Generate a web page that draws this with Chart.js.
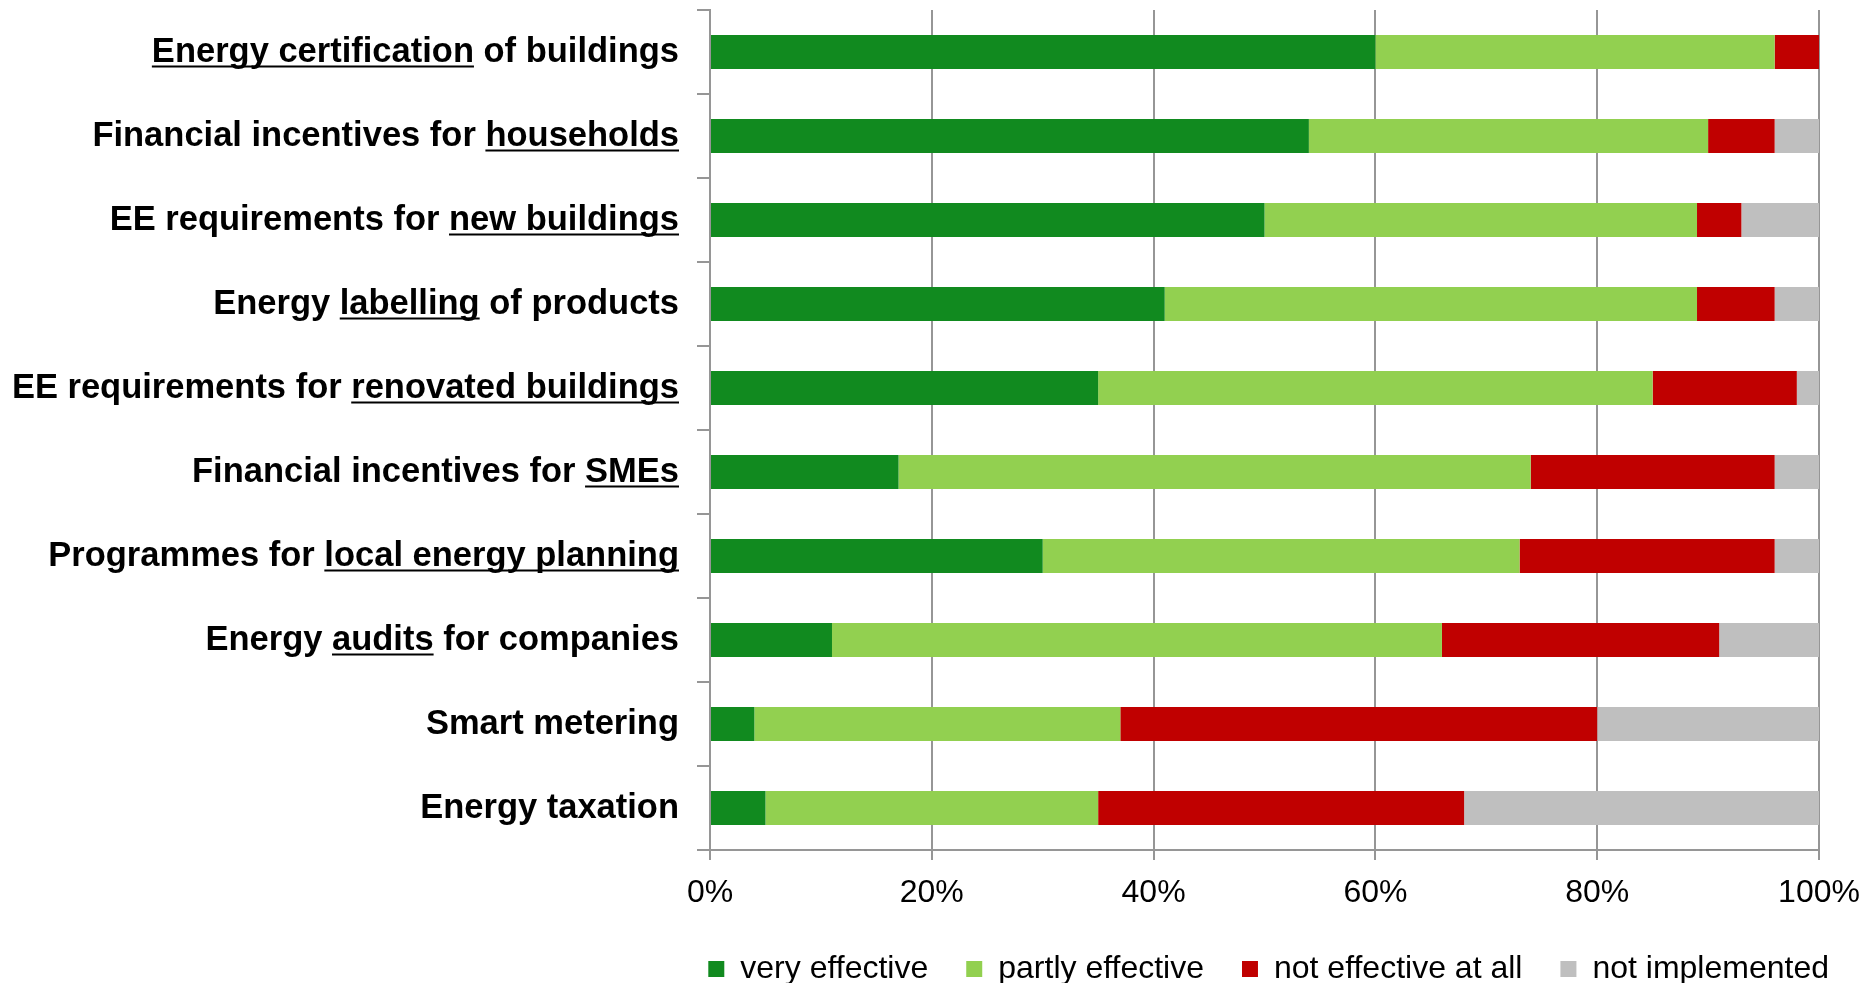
<!DOCTYPE html>
<html>
<head>
<meta charset="utf-8">
<script src="https://cdn.jsdelivr.net/npm/chart.js@4.4.1/dist/chart.umd.min.js"></script>
<style>
  html, body { margin: 0; padding: 0; background: #ffffff; }
  #wrap { width: 1867px; height: 983px; position: relative; }
</style>
</head>
<body>
<div id="wrap"><canvas id="c"></canvas></div>
<script>
const categories = [
  "Energy certification of buildings",
  "Financial incentives for households",
  "EE requirements for new buildings",
  "Energy labelling of products",
  "EE requirements for renovated buildings",
  "Financial incentives for SMEs",
  "Programmes for local energy planning",
  "Energy audits for companies",
  "Smart metering",
  "Energy taxation"
];
const underlined = [
  "Energy certification",
  "households",
  "new buildings",
  "labelling",
  "renovated buildings",
  "SMEs",
  "local energy planning",
  "audits",
  "",
  ""
];
const seriesNames = ["very effective", "partly effective", "not effective at all", "not implemented"];
const veryEffective    = [60, 54, 50, 41, 35, 17, 30, 11,  4,  5];
const partlyEffective  = [36, 36, 39, 48, 50, 57, 43, 55, 33, 30];
const notEffective     = [ 4,  6,  4,  7, 13, 22, 23, 25, 43, 33];
const notImplemented   = [ 0,  4,  7,  4,  2,  4,  4,  9, 20, 32];
const xTicks = [0, 20, 40, 60, 80, 100];

const colors = ["#118A1F", "#92D050", "#C00000", "#BFBFBF"];
const LABEL_FONT = { family: "'Liberation Sans', Arial, sans-serif", size: 34.5, weight: "bold" };
const TICK_FONT = { family: "'Liberation Sans', Arial, sans-serif", size: 32, weight: "normal" };
const Y_TICK_LEN = 13, Y_PAD = 18;

const underlinePlugin = {
  id: "underlinePlugin",
  afterDraw(chart) {
    const ys = chart.scales.y;
    const ctx = chart.ctx;
    ctx.save();
    ctx.font = `${LABEL_FONT.weight} ${LABEL_FONT.size}px ${LABEL_FONT.family}`;
    ctx.textBaseline = "middle";
    const desc = ctx.measureText("E").actualBoundingBoxDescent;
    const xRight = ys.right - Y_TICK_LEN - Y_PAD;
    ctx.strokeStyle = "#000";
    ctx.lineWidth = 2;
    categories.forEach((lab, i) => {
      const sub = underlined[i];
      if (!sub) return;
      const idx = lab.indexOf(sub);
      if (idx < 0) return;
      const W = ctx.measureText(lab).width;
      const x0 = xRight - W + ctx.measureText(lab.substring(0, idx)).width;
      const x1 = x0 + ctx.measureText(sub).width;
      const y = ys.getPixelForTick(i) + desc + 5;
      ctx.beginPath();
      ctx.moveTo(x0, y);
      ctx.lineTo(x1, y);
      ctx.stroke();
    });
    ctx.restore();
  }
};

const data = {
  labels: categories,
  datasets: [veryEffective, partlyEffective, notEffective, notImplemented].map((arr, k) => ({
    label: seriesNames[k],
    data: arr,
    backgroundColor: colors[k],
    borderWidth: 0,
    barPercentage: 0.405,
    categoryPercentage: 1.0
  }))
};

new Chart(document.getElementById("c"), {
  type: "bar",
  data,
  plugins: [underlinePlugin],
  options: {
    indexAxis: "y",
    responsive: true,
    maintainAspectRatio: false,
    animation: false,
    layout: { padding: { top: 10, right: 0, bottom: 0, left: 0 } },
    plugins: {
      tooltip: { enabled: false },
      legend: {
        position: "bottom",
        align: "end",
        maxHeight: 68,
        labels: {
          boxWidth: 16,
          boxHeight: 16,
          padding: 38,
          color: "#000",
          font: TICK_FONT
        }
      }
    },
    scales: {
      x: {
        stacked: true,
        min: 0,
        max: 100,
        afterBuildTicks(scale) { scale.ticks = xTicks.map(v => ({ value: v })); },
        afterFit(scale) { scale.height = 65; scale.paddingRight = 48; },
        ticks: {
          color: "#000",
          font: TICK_FONT,
          padding: 14,
          callback: v => v + "%"
        },
        grid: { color: "#969696", lineWidth: 2, tickLength: 10, drawTicks: true },
        border: { color: "#969696", width: 2 }
      },
      y: {
        stacked: true,
        afterFit(scale) { scale.width = 710; scale.paddingTop = 0; scale.paddingBottom = 0; },
        ticks: { color: "#000", font: LABEL_FONT, padding: Y_PAD },
        grid: { offset: true, drawOnChartArea: false, drawTicks: true, tickLength: Y_TICK_LEN, color: "#969696", lineWidth: 2 },
        border: { color: "#969696", width: 2 }
      }
    }
  }
});
</script>
</body>
</html>
